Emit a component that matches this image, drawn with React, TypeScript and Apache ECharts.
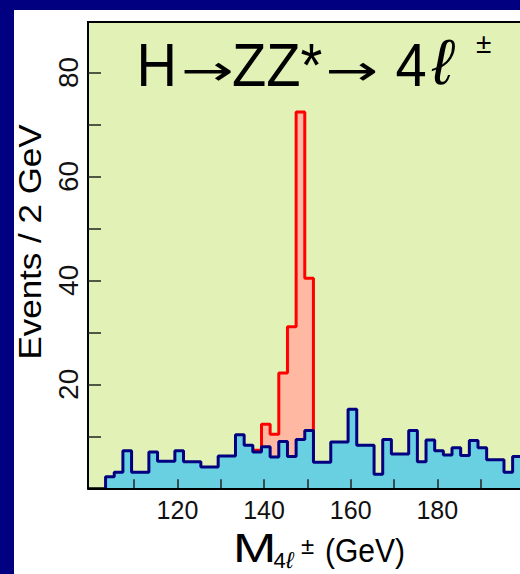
import React, { useEffect, useRef } from 'react';
import * as echarts from 'echarts';

// ---- data ----
const BIN_START = 103.4; // GeV, lower edge of the first bin
const BIN_WIDTH = 2; // GeV
const backgroundCounts = [
  2.2, 3.1, 7.2, 3.1, 3.1, 7.0, 5.2, 5.2, 7.2, 5.1, 5.1, 4.1, 4.1, 6.2, 6.2, 10.3,
  8.3, 7.0, 8.0, 6.0, 9.0, 6.1, 9.4, 11.1, 5.0, 5.0, 8.9, 8.9, 15.2, 8.3, 8.3, 2.7,
  9.4, 6.6, 6.6, 11.1, 5.1, 9.3, 7.2, 6.4, 7.8, 6.3, 9.2, 7.8, 5.5, 5.5, 3.1, 6.1,
];
const SIGNAL_FIRST_BIN = 17;
const signalPlusBackground = [7.3, 12.3, 10.4, 22.2, 31.1, 72.4, 40.4];
const xTickValues = [110, 120, 130, 140, 150, 160, 170, 180, 190, 200];
const xLabelValues = [120, 140, 160, 180];
const yTickValues = [10, 20, 30, 40, 50, 60, 70, 80];
const yLabelValues = [20, 40, 60, 80];

const FONT = '"Liberation Sans", Arial, Helvetica, sans-serif';
const ARROW_FONT = '"DejaVu Sans", sans-serif';

function stepPoints(firstEdge: number, counts: number[], closeRight: boolean) {
  const pts: number[][] = [[firstEdge, 0]];
  counts.forEach((c, i) => pts.push([firstEdge + i * BIN_WIDTH, c]));
  const lastEdge = firstEdge + counts.length * BIN_WIDTH;
  pts.push([lastEdge, counts[counts.length - 1]]);
  if (closeRight) pts.push([lastEdge, 0]);
  return pts;
}

function txt(text: string, x: number, y: number, font: string, extra: any = {}, align = 'left') {
  return {
    type: 'text',
    x,
    y,
    ...extra,
    style: { text, font, fill: '#000', textAlign: align, textVerticalAlign: 'middle' },
  };
}

export default function App() {
  const ref = useRef<HTMLDivElement>(null);
  useEffect(() => {
    if (!ref.current) return;
    const chart = echarts.init(ref.current, null, { renderer: 'svg' });
    const bgPts = stepPoints(BIN_START, backgroundCounts, false);
    const sigPts = stepPoints(BIN_START + SIGNAL_FIRST_BIN * BIN_WIDTH, signalPlusBackground, true);
    chart.setOption({
      animation: false,
      backgroundColor: 'transparent',
      grid: {
        left: 88,
        top: 22,
        right: 600 - 88 - 479.2,
        bottom: 574 - 488.3,
        show: true,
        backgroundColor: '#e2f2b7',
        borderColor: '#000',
        borderWidth: 2,
      },
      xAxis: {
        type: 'value',
        min: 99.34,
        max: 210,
        z: 5,
        axisLine: { show: true, onZero: false, lineStyle: { color: '#000', width: 2 } },
        axisTick: {
          show: true,
          inside: true,
          length: 9,
          customValues: xTickValues,
          lineStyle: { color: '#222', width: 1.5 },
        },
        axisLabel: {
          customValues: xLabelValues,
          fontSize: 25,
          color: '#111',
          margin: 9,
          fontFamily: FONT,
        },
        splitLine: { show: false },
      },
      yAxis: {
        type: 'value',
        min: 0,
        max: 89.7,
        interval: 10,
        z: 5,
        axisLine: { show: true, lineStyle: { color: '#000', width: 2 } },
        axisTick: {
          show: true,
          inside: true,
          length: 13,
          customValues: yTickValues,
          lineStyle: { color: '#222', width: 1.5 },
        },
        axisLabel: {
          customValues: yLabelValues,
          rotate: 90,
          fontSize: 28,
          color: '#111',
          margin: 6,
          fontFamily: FONT,
        },
        splitLine: { show: false },
      },
      series: [
        {
          type: 'line',
          step: 'end',
          data: sigPts,
          symbol: 'none',
          z: 2,
          lineStyle: { color: '#ff0000', width: 3 },
          areaStyle: { color: '#ffb9a3', opacity: 1 },
        },
        {
          type: 'line',
          step: 'end',
          data: bgPts,
          symbol: 'none',
          z: 3,
          lineStyle: { color: '#000080', width: 3 },
          areaStyle: { color: '#69d0e1', opacity: 1 },
        },
      ],
      graphic: [
        // title  H→ZZ*→ 4ℓ±
        txt('H', 136.6, 65, `61px ${FONT}`, { scaleX: 0.92 }),
        txt('→', 207.5, 70, `42px ${ARROW_FONT}`, { scaleX: 1.5 }, 'center'),
        txt('ZZ*', 232, 65, `61px ${FONT}`, { scaleX: 0.92 }),
        txt('→', 352, 70, `42px ${ARROW_FONT}`, { scaleX: 1.5 }, 'center'),
        txt('4', 395.5, 65, `61px ${FONT}`, { scaleX: 0.92 }),
        txt('ℓ', 432, 62, `italic 64px ${FONT}`),
        txt('±', 476, 43.5, `28px ${FONT}`),
        // y axis title
        txt('Events / 2 GeV', 30, 242, `35px ${FONT}`, { rotation: Math.PI / 2, scaleY: 0.92 }, 'center'),
        // x axis title  M_{4ℓ}^{±} (GeV)
        txt('M', 233, 548, `40px ${FONT}`, { scaleX: 1.3 }),
        txt('4', 273.5, 560, `22px ${FONT}`),
        txt('ℓ', 286, 560, `italic 23px ${FONT}`),
        txt('±', 301, 545, `24px ${FONT}`),
        txt('(GeV)', 325, 550.5, `33px ${FONT}`, { scaleX: 0.91 }),
      ],
    });
    return () => chart.dispose();
  }, []);

  return (
    <div
      style={{
        position: 'fixed',
        left: 0,
        top: 0,
        width: 520,
        height: 574,
        overflow: 'hidden',
        background: '#000080',
      }}
    >
      <div
        style={{
          position: 'absolute',
          left: 14,
          top: 10,
          width: 600,
          height: 600,
          background: '#ffffff',
        }}
      />
      <div ref={ref} style={{ position: 'absolute', left: 0, top: 0, width: 600, height: 574 }} />
    </div>
  );
}
